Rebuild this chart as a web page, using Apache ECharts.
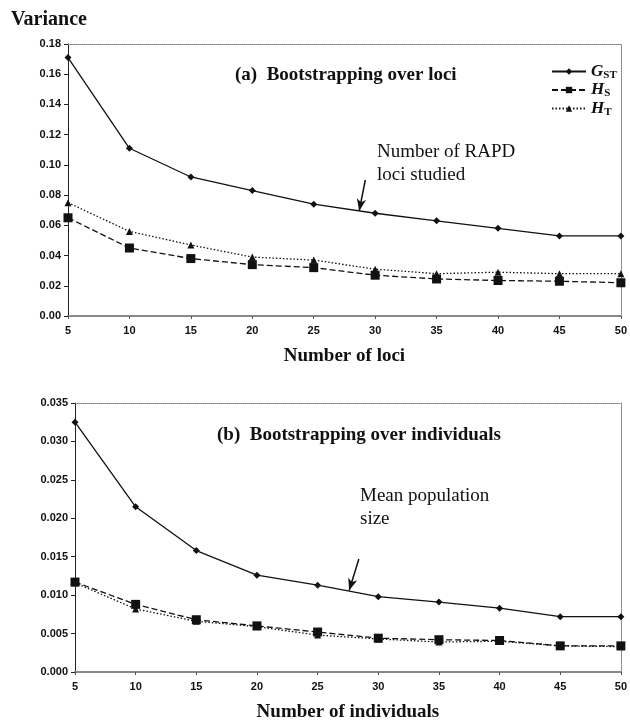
<!DOCTYPE html>
<html>
<head>
<meta charset="utf-8">
<script src="https://cdn.jsdelivr.net/npm/echarts@6/dist/echarts.min.js"></script>
<style>
  html, body { margin: 0; padding: 0; background: #fff; }
  #chart { width: 630px; height: 723px; }
</style>
</head>
<body>
<div id="chart"></div>
<script>
// sample sizes (x axis of both panels)
const sizes = [5, 10, 15, 20, 25, 30, 35, 40, 45, 50];

// (a) bootstrapping over loci
const gstLoci = [0.171, 0.111, 0.092, 0.083, 0.074, 0.068, 0.063, 0.058, 0.053, 0.053];
const hsLoci  = [0.065, 0.045, 0.038, 0.034, 0.032, 0.027, 0.0245, 0.0235, 0.023, 0.022];
const htLoci  = [0.075, 0.056, 0.047, 0.039, 0.037, 0.031, 0.028, 0.029, 0.028, 0.028];

// (b) bootstrapping over individuals
const gstInd = [0.0325, 0.0215, 0.0158, 0.0126, 0.0113, 0.0098, 0.0091, 0.0083, 0.0072, 0.0072];
const hsInd  = [0.0117, 0.0088, 0.0068, 0.0060, 0.0052, 0.0044, 0.0042, 0.0041, 0.0034, 0.0034];
const htInd  = [0.0116, 0.0082, 0.0066, 0.0059, 0.0048, 0.0043, 0.0039, 0.0040, 0.0034, 0.0033];

const serif = 'Liberation Serif';
const sans = 'Liberation Sans';

function pairs(vals) {
  return sizes.map((x, i) => [x, vals[i]]);
}

const styles = {
  GST: { symbol: 'diamond', symbolSize: 7, type: 'solid' },
  HS:  { symbol: 'rect', symbolSize: 9, type: [6, 3] },
  HT:  { symbol: 'triangle', symbolSize: 7, type: [1.5, 2] }
};

function makeSeries(name, vals, idx) {
  const s = styles[name];
  return {
    name: name,
    type: 'line',
    xAxisIndex: idx,
    yAxisIndex: idx,
    data: pairs(vals),
    symbol: s.symbol,
    symbolSize: s.symbolSize,
    showSymbol: true,
    itemStyle: { color: '#111' },
    lineStyle: { color: '#111', width: 1.3, type: s.type },
    z: 3,
    animation: false
  };
}

function xAxisFor(idx, name) {
  return {
    type: 'value', gridIndex: idx, min: 5, max: 50, interval: 5,
    name: name, nameLocation: 'middle', nameGap: 31,
    nameTextStyle: { fontFamily: serif, fontWeight: 'bold', fontSize: 19, color: '#111' },
    axisLine: { lineStyle: { color: '#888', width: 2 } },
    axisTick: { show: true, length: 3, lineStyle: { color: '#555' } },
    axisLabel: { fontFamily: sans, fontWeight: 'bold', fontSize: 11, color: '#111', margin: 9 },
    splitLine: { show: false }
  };
}

// dotted top edge of the plot frame
function frameX(idx) {
  return {
    type: 'value', gridIndex: idx, position: 'top', min: 5, max: 50,
    axisLine: { show: true, onZero: false, lineStyle: { color: '#777', type: [1, 1] } },
    axisTick: { show: false }, axisLabel: { show: false }, splitLine: { show: false }
  };
}

function yAxisFor(idx, max, interval, digits) {
  return {
    type: 'value', gridIndex: idx, min: 0, max: max, interval: interval,
    axisLine: { show: true, lineStyle: { color: '#222', width: 1 } },
    axisTick: { show: true, length: 4, lineStyle: { color: '#222' } },
    axisLabel: {
      fontFamily: sans, fontWeight: 'bold', fontSize: 11, color: '#111', margin: 7,
      formatter: v => v.toFixed(digits)
    },
    splitLine: { show: false }
  };
}

// dotted right edge of the plot frame
function frameY(idx, max) {
  return {
    type: 'value', gridIndex: idx, position: 'right', min: 0, max: max,
    axisLine: { show: true, onZero: false, lineStyle: { color: '#777', type: [1, 1] } },
    axisTick: { show: false }, axisLabel: { show: false }, splitLine: { show: false }
  };
}

const chart = echarts.init(document.getElementById('chart'), null, { renderer: 'canvas' });

const arrowStyle = { color: '#111', width: 1.5, type: 'solid' };

const series = [
  makeSeries('GST', gstLoci, 0),
  makeSeries('HS', hsLoci, 0),
  makeSeries('HT', htLoci, 0),
  makeSeries('GST', gstInd, 1),
  makeSeries('HS', hsInd, 1),
  makeSeries('HT', htInd, 1)
];

// annotation arrows pointing at the G_ST curves
series[0].markLine = {
  silent: true, symbol: ['none', 'arrow'], symbolSize: [7, 12],
  lineStyle: arrowStyle, label: { show: false }, animation: false,
  data: [[{ coord: [29.2, 0.090] }, { coord: [28.7, 0.0695] }]]
};
series[3].markLine = {
  silent: true, symbol: ['none', 'arrow'], symbolSize: [7, 12],
  lineStyle: arrowStyle, label: { show: false }, animation: false,
  data: [[{ coord: [28.4, 0.0147] }, { coord: [27.6, 0.0106] }]]
};

const legendNames = {
  GST: '{i|G}{s|ST}',
  HS: '{i|H}{s|S}',
  HT: '{i|H}{s|T}'
};

chart.setOption({
  backgroundColor: '#fff',
  animation: false,
  title: [
    { text: 'Variance', left: 6, top: 5,
      textStyle: { fontFamily: serif, fontWeight: 'bold', fontSize: 20, color: '#111' } },
    { text: '(a)  Bootstrapping over loci', left: 230, top: 61,
      textStyle: { fontFamily: serif, fontWeight: 'bold', fontSize: 19, color: '#111' } },
    { text: 'Number of RAPD\nloci studied', left: 372, top: 136,
      textStyle: { fontFamily: serif, fontWeight: 'normal', fontSize: 19, color: '#111', lineHeight: 23 } },
    { text: '(b)  Bootstrapping over individuals', left: 212, top: 421,
      textStyle: { fontFamily: serif, fontWeight: 'bold', fontSize: 19, color: '#111' } },
    { text: 'Mean population\nsize', left: 355, top: 480,
      textStyle: { fontFamily: serif, fontWeight: 'normal', fontSize: 19, color: '#111', lineHeight: 23 } }
  ],
  legend: {
    data: ['GST', 'HS', 'HT'],
    orient: 'vertical', left: 546, top: 58,
    itemWidth: 34, itemHeight: 8, itemGap: 1,
    formatter: n => legendNames[n],
    textStyle: {
      color: '#111',
      rich: {
        i: { fontFamily: serif, fontStyle: 'italic', fontWeight: 'bold', fontSize: 17, color: '#111' },
        s: { fontFamily: serif, fontWeight: 'bold', fontSize: 11, color: '#111', padding: [7, 0, 0, 0] }
      }
    }
  },
  grid: [
    { left: 68, right: 8, top: 44, height: 272, containLabel: false },
    { left: 75, right: 9, top: 403, height: 270, containLabel: false }
  ],
  xAxis: [
    xAxisFor(0, 'Number of loci'),
    xAxisFor(1, 'Number of individuals'),
    frameX(0), frameX(1)
  ],
  yAxis: [
    yAxisFor(0, 0.18, 0.02, 2),
    yAxisFor(1, 0.035, 0.005, 3),
    frameY(0, 0.18), frameY(1, 0.035)
  ],
  series: series
});
</script>
</body>
</html>
